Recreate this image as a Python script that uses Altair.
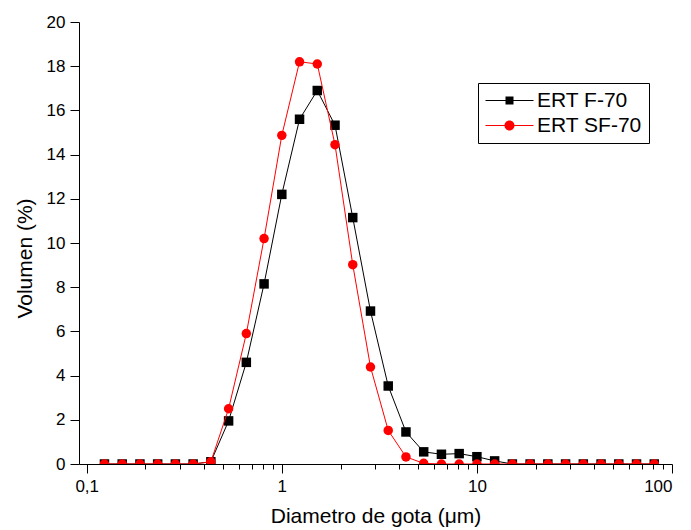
import altair as alt
import pandas as pd

# Droplet diameter classes (µm)
diametro = [0.1233, 0.1520, 0.1874, 0.2310, 0.2848, 0.3511, 0.4329, 0.5337,
            0.6579, 0.8111, 1.0, 1.2328, 1.5199, 1.8738, 2.3101, 2.8480,
            3.5112, 4.3288, 5.3367, 6.5793, 8.1113, 10.0, 12.328, 15.199,
            18.738, 23.101, 28.480, 35.112, 43.288, 53.367, 65.793, 81.113]

ert_f70 = [0, 0, 0, 0, 0, 0, 0.1, 1.95, 4.6, 8.15, 12.2, 15.6, 16.9, 15.33,
           11.15, 6.92, 3.53, 1.45, 0.55, 0.44, 0.47, 0.33, 0.14, 0, 0, 0,
           0, 0, 0, 0, 0, 0]

ert_sf70 = [0, 0, 0, 0, 0, 0, 0.1, 2.5, 5.9, 10.2, 14.87, 18.2, 18.1, 14.45,
            9.02, 4.39, 1.52, 0.32, 0.03, 0, 0, 0, 0, 0, 0, 0,
            0, 0, 0, 0, 0, 0]

series_names = ["ERT F-70", "ERT SF-70"]
series_colors = ["#000000", "#ff0000"]

x_ticks = [0.1, 0.2, 0.3, 0.4, 0.5, 0.6, 0.7, 0.8, 0.9,
           1, 2, 3, 4, 5, 6, 7, 8, 9,
           10, 20, 30, 40, 50, 60, 70, 80, 90, 100]
y_ticks = [0, 2, 4, 6, 8, 10, 12, 14, 16, 18, 20]

df = pd.concat([
    pd.DataFrame({"d": diametro, "v": ert_f70, "series": series_names[0]}),
    pd.DataFrame({"d": diametro, "v": ert_sf70, "series": series_names[1]}),
])

FONT = "Liberation Sans"
decade_test = "abs(log(datum.value)/LN10 - round(log(datum.value)/LN10)) < 0.001"

x_enc = alt.X(
    "d:Q",
    scale=alt.Scale(type="log", domain=[0.0913, 100], nice=False),
    axis=alt.Axis(
        values=x_ticks,
        title="Diametro de gota (\u03bcm)",
        labelExpr=f"({decade_test}) ? replace(toString(datum.value), '.', ',') : ''",
        tickSize={"condition": {"test": decade_test, "value": 9}, "value": 5},
        labelPadding=5,
        titlePadding=11,
    ),
)
y_enc = alt.Y(
    "v:Q",
    scale=alt.Scale(domain=[0, 20], nice=False),
    axis=alt.Axis(values=y_ticks, title="Volumen (%)", tickSize=9,
                  labelPadding=5, titlePadding=11, titleY=236),
)

base = alt.Chart(df).encode(x=x_enc, y=y_enc)

line_f = base.transform_filter(alt.datum.series == series_names[0]).mark_line(
    color=series_colors[0], strokeWidth=1, clip=True)
pts_f = base.transform_filter(alt.datum.series == series_names[0]).mark_point(
    shape="square", filled=True, size=90, color=series_colors[0], opacity=1, clip=True)
line_sf = base.transform_filter(alt.datum.series == series_names[1]).mark_line(
    color=series_colors[1], strokeWidth=1, clip=True)
pts_sf = base.transform_filter(alt.datum.series == series_names[1]).mark_point(
    shape="circle", filled=True, size=90, color=series_colors[1], opacity=1, clip=True)

sym_square = "M-4.8,-0.1H4.8V0.1H-4.8Z M-0.8,-0.8H0.8V0.8H-0.8Z"
sym_circle = "M-4.8,-0.1H4.8V0.1H-4.8Z M-1,0A1,1,0,1,1,1,0A1,1,0,1,1,-1,0Z"

legend_kw = dict(title=None, orient="none", legendX=399, legendY=61,
                 strokeColor="#000000", padding=7,
                 labelFontSize=21, labelFont=FONT, labelColor="#000000",
                 symbolSize=100, symbolStrokeWidth=0, symbolOpacity=1,
                 symbolOffset=14, labelOffset=17, rowPadding=3, labelLimit=300)

legend_layer = base.mark_point(filled=True, opacity=0, size=1).encode(
    color=alt.Color("series:N", scale=alt.Scale(domain=series_names, range=series_colors),
                    legend=alt.Legend(**legend_kw)),
    shape=alt.Shape("series:N", scale=alt.Scale(domain=series_names, range=[sym_square, sym_circle]),
                    legend=alt.Legend(**legend_kw)),
)

chart = alt.layer(line_f, pts_f, line_sf, pts_sf, legend_layer).properties(
    width=593, height=442,
    autosize=alt.AutoSizeParams(type="none"),
    padding={"left": 71, "top": 14, "right": 11, "bottom": 64},
).configure_view(stroke=None).configure_axis(
    grid=False, domainColor="#000000", domainWidth=1, tickColor="#000000", tickWidth=1,
    labelFont=FONT, labelFontSize=17, labelColor="#000000",
    titleFont=FONT, titleFontSize=21, titleFontWeight="normal", titleColor="#000000",
)

chart.save("out.html", embed_options={"renderer": "svg", "actions": False})
